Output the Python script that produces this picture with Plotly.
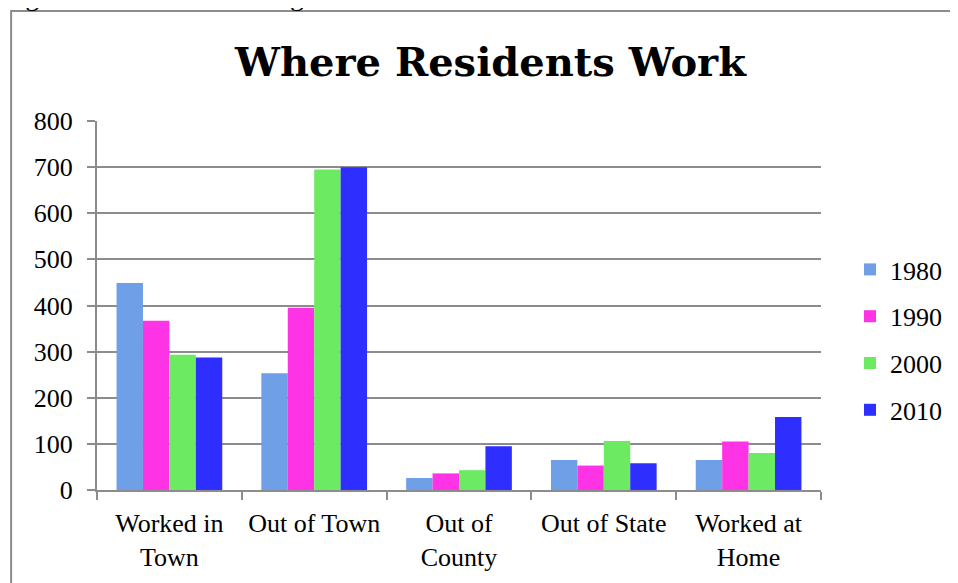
import plotly.graph_objects as go

categories = ["Worked in<br>Town", "Out of Town", "Out of<br>County", "Out of State", "Worked at<br>Home"]
years = ["1980", "1990", "2000", "2010"]
v1980 = [449, 253, 26, 65, 65]
v1990 = [367, 395, 36, 53, 105]
v2000 = [293, 695, 43, 106, 80]
v2010 = [287, 700, 95, 58, 158]
colors = ["#6f9fe6", "#ff33e6", "#6ceb62", "#2e2eff"]

# page has an 8px body margin, so the figure sits at (8, 8) in the window
OFF = 8
W, H = 958 - OFF, 583 - OFF
L, R, T, B = 97 - OFF, 822 - OFF, 121 - OFF, 490 - OFF


def px(x):
    # window pixel -> paper x
    return (x - OFF - L) / (R - L)


def py(y):
    # window pixel -> paper y
    return (B - (y - OFF)) / (B - T)


fig = go.Figure()
for yr, vals, c in zip(years, [v1980, v1990, v2000, v2010], colors):
    fig.add_trace(go.Bar(x=categories, y=vals, name=yr, marker_color=c,
                         marker_line_width=0, legendgroup=yr))

grey = "#8c8c8c"
serif = "Liberation Serif"

fig.update_layout(
    width=W, height=H,
    margin=dict(l=L, r=W - R, t=T, b=H - B),
    paper_bgcolor="white", plot_bgcolor="white",
    barmode="group", bargap=0.27, bargroupgap=0,
    font=dict(family=serif, size=26, color="black"),
    title=dict(text="<b>Where Residents Work</b>", xref="paper", x=px(491), xanchor="center",
               yref="container", y=1 - (62 - OFF) / H, yanchor="middle",
               font=dict(family="DejaVu Serif", size=40, color="black")),
    legend=dict(x=px(850), xanchor="left", y=py(340), yanchor="middle",
                font=dict(size=26), tracegroupgap=10, itemwidth=30),
    showlegend=True,
)
fig.update_xaxes(showline=True, linecolor=grey, linewidth=2, ticks="outside",
                 tickson="boundaries", ticklen=8, tickcolor=grey, tickwidth=2,
                 showgrid=False, tickfont=dict(size=26), ticklabelstandoff=9)
fig.update_yaxes(range=[0, 800], dtick=100, showline=True, linecolor=grey, linewidth=2,
                 ticks="outside", ticklen=8, tickcolor=grey, tickwidth=2,
                 showgrid=True, gridcolor=grey, gridwidth=2, zeroline=False,
                 tickfont=dict(size=26), ticklabelstandoff=9)

# outer frame of the chart box
fig.add_shape(type="rect", xref="paper", yref="paper",
              x0=px(11), x1=px(1000), y0=py(640), y1=py(11),
              line=dict(color=grey, width=2), layer="below")

# document caption cut off at the top
fig.add_annotation(text="Figure 31: Where Wilmington Residents Work", xref="paper", yref="paper",
                   x=px(0), xanchor="left", y=py(13), yanchor="bottom", showarrow=False,
                   font=dict(family=serif, size=28, color="black"))

fig.write_html("out.html")
